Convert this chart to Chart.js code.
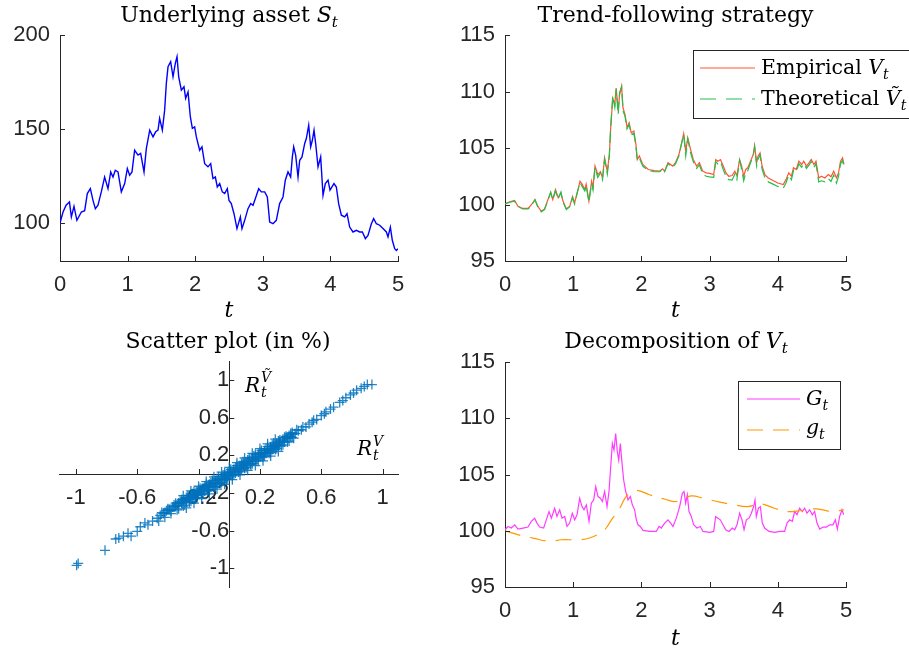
<!DOCTYPE html>
<html><head><meta charset="utf-8">
<script src="https://cdn.jsdelivr.net/npm/chart.js@4.4.1/dist/chart.umd.min.js"></script>
<style>
html,body{margin:0;padding:0;background:#fff;}
#wrap{position:relative;width:909px;height:649px;overflow:hidden;background:#fff;}
canvas{position:absolute;}
</style></head><body>
<div id="wrap">
<canvas id="c1" width="450" height="320" style="left:0;top:0;width:450px;height:320px"></canvas>
<canvas id="c2" width="459" height="320" style="left:450px;top:0;width:459px;height:320px"></canvas>
<canvas id="c3" width="450" height="329" style="left:0;top:320px;width:450px;height:329px"></canvas>
<canvas id="c4" width="459" height="329" style="left:450px;top:320px;width:459px;height:329px"></canvas>
</div>
<script>
// ---------- DATA ----------
const xTicks = [0, 1, 2, 3, 4, 5];
const yTicksS = [100, 150, 200];
const yTicksV = [95, 100, 105, 110, 115];
const scatTicks = [-1, -0.6, -0.2, 0.2, 0.6, 1];

// Underlying asset S_t
const tS = [0.00,0.045,0.09,0.14,0.168,0.207,0.25,0.316,0.365,0.404,
0.449,0.488,0.523,0.562,0.611,0.66,0.71,0.75,0.784,0.818,
0.858,0.907,0.957,0.996,1.03,1.065,1.104,1.154,1.193,1.243,
1.277,1.327,1.376,1.415,1.45,1.474,1.514,1.548,1.573,1.598,
1.637,1.672,1.706,1.731,1.756,1.795,1.834,1.859,1.894,1.928,
1.958,1.992,2.017,2.066,2.1,2.14,2.189,2.229,2.263,2.298,
2.327,2.362,2.401,2.436,2.475,2.5,2.534,2.574,2.618,2.668,
2.692,2.732,2.781,2.821,2.855,2.889,2.939,2.978,3.028,3.067,
3.102,3.151,3.2,3.249,3.299,3.333,3.373,3.412,3.437,3.457,
3.486,3.521,3.546,3.58,3.62,3.644,3.679,3.708,3.733,3.758,
3.782,3.817,3.856,3.891,3.925,3.965,3.994,4.053,4.088,4.122,
4.162,4.211,4.246,4.285,4.334,4.384,4.433,4.473,4.517,4.556,
4.606,4.64,4.68,4.729,4.778,4.828,4.852,4.887,4.916,4.951,
4.976,5.0];
const S = [100.2,106.0,109.6,111.3,103.4,109.0,101.6,106.0,106.7,115.8,
118.4,112.2,107.8,109.6,116.7,124.6,118.4,127.3,124.6,128.2,
127.3,116.7,121.1,129.1,125.5,127.3,138.8,136.2,137.1,127.3,
139.7,149.5,145.9,148.6,149.5,155.7,149.5,160.1,174.3,183.2,
185.8,177.8,184.9,188.5,177.8,170.7,172.5,166.3,169.8,156.6,
150.4,151.2,145.9,138.8,140.6,131.7,130.0,131.7,123.8,124.6,
119.3,121.1,116.7,115.8,118.4,112.2,110.5,105.1,97.2,103.4,
97.2,101.6,107.8,110.5,109.6,113.1,118.4,116.7,116.7,114.0,
100.7,99.8,101.6,110.5,114.0,122.9,127.3,124.6,135.3,140.6,
136.2,124.6,133.5,135.3,142.4,145.0,152.1,140.6,144.1,149.5,
142.4,130.0,135.3,114.9,121.1,122.9,117.6,121.1,119.3,110.5,
104.3,103.4,105.1,98.0,95.4,96.3,95.4,95.4,91.9,93.6,
99.8,102.5,99.8,99.0,97.2,95.4,92.8,98.0,91.0,86.5,
85.6,86.5];

// Trend-following strategy: empirical V_t and theoretical V~_t
const tV = [0,0.07,0.14,0.19,0.26,0.34,0.39,0.44,0.48,0.53,
0.58,0.63,0.67,0.70,0.74,0.78,0.82,0.85,0.90,0.95,
0.99,1.02,1.06,1.10,1.13,1.17,1.19,1.23,1.27,1.29,
1.32,1.36,1.40,1.43,1.46,1.50,1.53,1.55,1.58,1.61,
1.63,1.66,1.68,1.71,1.73,1.76,1.79,1.82,1.85,1.89,
1.92,1.94,1.97,2.02,2.10,2.19,2.27,2.31,2.34,2.39,
2.46,2.50,2.55,2.59,2.62,2.65,2.68,2.72,2.76,2.81,
2.85,2.90,2.95,3.00,3.06,3.09,3.12,3.16,3.20,3.24,
3.28,3.33,3.37,3.40,3.44,3.47,3.50,3.53,3.56,3.60,
3.64,3.66,3.69,3.71,3.74,3.77,3.81,3.86,3.93,4.00,
4.08,4.12,4.16,4.20,4.23,4.27,4.31,4.35,4.38,4.42,
4.46,4.49,4.53,4.56,4.60,4.64,4.69,4.74,4.78,4.82,
4.86,4.89,4.92,4.95,4.97];
const Vemp = [100.06,100.24,100.35,99.85,99.65,99.65,100.0,100.44,99.85,99.4,
99.6,100.44,101.03,100.44,101.33,100.6,101.03,100.3,99.6,99.85,
100.7,100.15,101.03,102.06,101.8,101.33,101.8,100.3,102.06,101.5,
103.4,102.65,102.9,102.35,104.13,102.9,104.42,106.8,109.4,108.85,
110.3,108.26,109.7,110.47,108.56,107.96,106.8,107.23,106.35,106.5,
105.3,103.98,104.3,103.54,103.1,103.0,102.95,103.15,102.95,103.7,
103.4,103.7,104.42,105.46,106.28,104.72,105.9,104.9,103.98,103.4,
103.7,102.95,102.8,102.75,102.65,103.98,103.83,103.98,103.4,102.8,
102.5,102.56,102.95,102.56,103.98,103.4,102.5,103.1,103.25,103.83,
104.42,105.22,103.7,104.28,104.57,103.4,102.65,102.35,102.12,101.9,
101.77,102.2,102.8,102.5,103.25,103.1,103.83,103.54,103.83,103.4,
103.7,103.98,103.54,103.83,102.35,102.5,102.35,102.65,102.45,102.95,
102.35,102.8,103.83,104.13,103.54];
const Vthe = [100.06,100.2,100.3,99.85,99.6,99.6,99.95,100.4,99.8,99.35,
99.55,100.4,101.1,100.4,101.2,100.5,101.1,100.2,99.55,99.8,
100.6,100.05,101.1,101.95,101.6,101.2,101.7,100.2,101.9,101.3,
103.3,102.4,102.8,102.2,104.0,102.7,104.3,106.9,109.6,108.6,
110.2,108.0,109.9,110.4,108.3,107.8,106.7,107.1,106.2,106.3,
105.1,103.9,104.1,103.4,103.0,102.9,102.9,103.2,102.9,103.6,
103.3,103.6,104.3,105.4,106.2,104.3,105.8,104.6,103.8,103.2,
103.5,102.7,102.5,102.45,102.4,103.8,103.6,103.8,103.1,102.5,
102.2,102.15,102.7,102.2,103.9,103.1,102.1,102.8,103.0,103.7,
104.3,105.1,103.4,104.0,104.4,103.1,102.4,102.0,101.8,101.6,
101.45,101.9,102.6,102.2,103.0,102.9,103.6,103.3,103.6,103.2,
103.5,103.8,103.3,103.6,102.0,102.1,102.0,102.3,102.05,102.6,
101.9,102.5,103.6,103.9,103.3];

// Decomposition: G_t and g_t
const tG = [0.0,0.044,0.093,0.142,0.191,0.264,0.337,0.386,0.435,0.469,
0.508,0.567,0.606,0.645,0.68,0.728,0.762,0.802,0.836,0.875,
0.909,0.948,0.987,1.022,1.056,1.095,1.129,1.158,1.193,1.232,
1.266,1.3,1.33,1.364,1.398,1.427,1.461,1.496,1.525,1.55,
1.574,1.598,1.623,1.647,1.667,1.691,1.716,1.74,1.77,1.804,
1.838,1.867,1.901,1.926,1.95,1.984,2.024,2.121,2.219,2.258,
2.292,2.341,2.39,2.429,
2.463,2.512,2.561,2.6,2.625,2.649,2.673,2.698,2.732,2.766,
2.815,2.864,2.903,3.001,3.06,3.089,3.123,3.157,3.196,3.236,
3.285,3.333,3.368,3.402,3.441,3.475,3.505,3.539,3.578,3.612,
3.646,3.666,3.685,3.715,3.744,3.773,3.807,3.871,3.954,4.027,
4.1,4.135,4.174,4.213,4.247,4.281,4.32,4.36,4.394,4.428,
4.467,4.506,4.54,4.575,4.614,4.663,4.712,4.761,4.809,4.844,
4.873,4.907,4.941,4.966];
const Gt = [100.09,100.38,100.24,100.53,100.15,100.24,100.33,100.83,101.12,100.68,
100.33,100.24,100.97,101.71,101.12,102.0,101.27,101.86,101.12,101.27,
100.38,100.68,101.56,100.97,101.42,102.89,102.15,101.86,102.3,100.83,
102.45,102.74,103.92,103.04,102.89,102.6,103.48,102.15,103.48,105.69,
107.76,107.17,108.64,107.02,106.28,107.76,105.99,104.51,103.48,102.74,
103.04,102.3,101.86,100.97,100.53,100.38,100.03,99.94,99.94,100.38,
100.24,100.68,100.97,100.68,
100.38,101.12,102.15,103.33,103.48,102.45,103.19,101.71,101.27,100.53,
100.24,100.38,99.94,99.85,99.94,101.27,101.12,100.97,100.53,100.09,
99.94,100.24,100.09,100.53,101.56,100.97,100.09,100.97,101.12,101.56,
102.15,102.74,101.27,102.0,102.15,100.68,100.24,99.94,99.85,99.94,
99.94,100.68,100.97,100.83,101.71,101.42,102.0,101.71,102.0,101.56,
101.86,101.42,101.71,100.68,100.15,100.33,100.33,100.53,100.53,100.97,
100.15,101.27,101.86,101.42];
const tg = [0,0.24,0.41,0.65,0.83,1.07,1.24,1.46,1.56,1.68,1.76,1.83,1.93,2.12,2.35,
2.51,2.73,2.90,3.15,3.32,3.56,3.74,3.95,4.13,4.35,4.57,4.79,4.97];
const gt = [100.0,99.56,99.35,99.06,99.2,99.2,99.35,100.09,100.97,101.98,102.9,103.33,103.6,103.2,102.8,
102.6,103.1,102.9,102.54,102.35,102.15,102.4,102.0,101.71,101.8,101.95,101.71,101.86];

// Scatter of returns (in %): x = R^V_t, y = R^{V~}_t
const scatX = [-0.995,-0.985,-0.81,-0.74,-0.72,-0.69,-0.66,-0.64,-0.60,-0.58,
-0.55,-0.53,-0.50,-0.47,-0.45,-0.42,-0.40,-0.38,-0.36,-0.34,
-0.33,-0.31,-0.30,-0.28,-0.27,-0.26,-0.25,-0.24,-0.23,-0.22,
-0.21,-0.20,-0.19,-0.18,-0.17,-0.16,-0.15,-0.14,-0.13,-0.12,
-0.11,-0.10,-0.09,-0.08,-0.07,-0.06,-0.05,-0.04,-0.03,-0.02,
-0.01,0.00,0.01,0.02,0.03,0.04,0.05,0.06,0.07,0.08,
0.09,0.10,0.11,0.12,0.13,0.14,0.15,0.16,0.17,0.18,
0.19,0.20,0.21,0.22,0.23,0.24,0.25,0.26,0.27,0.28,
0.29,0.30,0.31,0.32,0.33,0.35,0.36,0.38,0.40,0.41,
0.43,0.45,0.47,0.48,0.50,0.52,0.54,0.55,0.57,0.60,
0.62,0.63,0.66,0.68,0.72,0.74,0.76,0.79,0.81,0.83,
0.86,0.88,0.90,0.93,
-0.35,-0.31,-0.27,-0.23,-0.19,-0.15,-0.11,-0.07,-0.03,0.01,
0.05,0.09,0.13,0.17,0.21,0.25,0.29,0.33,0.37,0.41,
-0.33,-0.29,-0.25,-0.21,-0.17,-0.13,-0.09,-0.05,-0.01,0.03,
0.07,0.11,0.15,0.19,0.23,0.27,0.31,0.35,0.39,
-0.44,-0.40,-0.36,-0.32,-0.28,-0.24,-0.20,-0.16,-0.12,-0.08,
-0.04,0.00,0.04,0.08,0.12,0.16,0.20,0.24,0.28,0.32,
0.36,0.40,0.44,
-0.46,-0.42,-0.38,-0.34,-0.30,-0.26,-0.22,-0.18,-0.14,-0.10,
-0.06,-0.02,0.02,0.06,0.10,0.14,0.18,0.22,0.26,0.30,
0.34,0.38,0.42,
-0.43,-0.41,-0.39,-0.37,-0.35,-0.33,-0.31,-0.29,-0.27,-0.25,
-0.23,-0.21,-0.19,-0.17,-0.15,-0.13,-0.11,-0.09,-0.07,-0.05,
-0.03,-0.01,0.01,0.03,0.05,0.07,0.09,0.11,0.13,0.15,
0.17,0.19,0.21,0.23,0.25,0.27,0.29,0.31,0.33,0.35,
0.37,0.39,0.41,
-0.30,-0.25,-0.20,-0.15,-0.10,-0.05,0.00,0.05,0.10,0.15,
0.20,0.25,0.30,
-0.28,-0.23,-0.18,-0.13,-0.08,-0.03,0.02,0.07,0.12,0.17,
0.22,0.27,0.32];
const scatY = [-0.97,-0.95,-0.81,-0.69,-0.68,-0.66,-0.63,-0.66,-0.61,-0.56,
-0.52,-0.54,-0.50,-0.47,-0.44,-0.41,-0.38,-0.39,-0.35,-0.33,
-0.31,-0.31,-0.28,-0.28,-0.26,-0.27,-0.24,-0.25,-0.22,-0.23,
-0.20,-0.21,-0.18,-0.20,-0.16,-0.18,-0.14,-0.16,-0.12,-0.14,
-0.10,-0.13,-0.09,-0.11,-0.06,-0.09,-0.05,-0.07,-0.03,-0.05,
-0.01,-0.03,0.01,-0.01,0.03,0.01,0.05,0.03,0.07,0.05,
0.09,0.07,0.11,0.09,0.13,0.11,0.15,0.14,0.17,0.16,
0.19,0.18,0.21,0.20,0.23,0.22,0.25,0.24,0.27,0.26,
0.29,0.28,0.31,0.30,0.33,0.35,0.34,0.38,0.40,0.39,
0.43,0.46,0.47,0.50,0.50,0.53,0.55,0.57,0.58,0.62,
0.64,0.66,0.69,0.71,0.76,0.78,0.81,0.84,0.86,0.89,
0.91,0.93,0.95,0.95,
-0.31,-0.27,-0.23,-0.19,-0.15,-0.11,-0.07,-0.03,0.01,0.05,
0.09,0.13,0.17,0.21,0.25,0.29,0.33,0.36,0.40,0.44,
-0.37,-0.33,-0.29,-0.25,-0.21,-0.17,-0.13,-0.09,-0.05,-0.01,
0.03,0.07,0.11,0.15,0.19,0.23,0.27,0.31,0.35,
-0.41,-0.37,-0.33,-0.29,-0.25,-0.21,-0.17,-0.13,-0.09,-0.05,
-0.01,0.03,0.07,0.11,0.15,0.19,0.23,0.27,0.31,0.35,
0.39,0.43,0.47,
-0.50,-0.46,-0.42,-0.38,-0.34,-0.30,-0.26,-0.22,-0.18,-0.14,
-0.10,-0.06,-0.02,0.02,0.06,0.10,0.14,0.18,0.22,0.26,
0.30,0.34,0.38,
-0.42,-0.39,-0.38,-0.35,-0.34,-0.31,-0.30,-0.27,-0.26,-0.23,
-0.22,-0.19,-0.18,-0.15,-0.14,-0.11,-0.10,-0.07,-0.06,-0.03,
-0.02,0.01,0.02,0.05,0.06,0.09,0.10,0.13,0.14,0.17,
0.18,0.21,0.22,0.25,0.26,0.29,0.30,0.33,0.34,0.37,
0.38,0.41,0.42,
-0.23,-0.18,-0.13,-0.08,-0.03,0.02,0.07,0.12,0.17,0.22,
0.27,0.32,0.37,
-0.36,-0.31,-0.26,-0.21,-0.16,-0.11,-0.06,-0.01,0.04,0.09,
0.14,0.19,0.24];

// ---------- STYLE / HELPERS ----------
const AX = '#262626';
const SANS = '"Liberation Sans", Arial, Helvetica, sans-serif';
const SERIF = '"DejaVu Serif", "Liberation Serif", serif';
const TICKFONT = {family: SANS, size: 22};
const pts = (xs, ys) => xs.map((x, i) => ({x: x, y: ys[i]}));
const fixTicks = arr => scale => { scale.ticks = arr.map(v => ({value: v})); };
const fixW = w => s => { s.width = w; };
const fixH = h => s => { s.height = h; };

function drawRich(ctx, parts, x, y, align) {
  let w = 0;
  for (const p of parts) {
    ctx.font = (p.it ? 'italic ' : '') + p.sz + 'px ' + SERIF;
    p.w = ctx.measureText(p.t).width;
    w += p.w + (p.gap || 0);
  }
  let cx = align === 'center' ? x - w / 2 : x;
  ctx.textBaseline = 'alphabetic'; ctx.textAlign = 'left'; ctx.fillStyle = '#000';
  for (const p of parts) {
    ctx.font = (p.it ? 'italic ' : '') + p.sz + 'px ' + SERIF;
    ctx.fillText(p.t, cx + (p.gap || 0), y + (p.dy || 0));
    cx += p.w + (p.gap || 0);
  }
}
function inTicks(chart, baseY, baseX) {
  const ctx = chart.ctx, xs = chart.scales.x, ys = chart.scales.y;
  ctx.save(); ctx.strokeStyle = AX; ctx.lineWidth = 1; ctx.beginPath();
  xs.ticks.forEach(t => { const px = Math.round(xs.getPixelForValue(t.value)) + 0.5; ctx.moveTo(px, baseY); ctx.lineTo(px, baseY - 5); });
  ys.ticks.forEach(t => { const py = Math.round(ys.getPixelForValue(t.value)) + 0.5; ctx.moveTo(baseX, py); ctx.lineTo(baseX + 5, py); });
  ctx.stroke(); ctx.restore();
}
function legendLine(ctx, x1, x2, y, color, dash) {
  ctx.save(); ctx.strokeStyle = color; ctx.lineWidth = 1.2; ctx.setLineDash(dash || []);
  ctx.beginPath(); ctx.moveTo(x1, y); ctx.lineTo(x2, y); ctx.stroke(); ctx.restore();
}
function legendBox(ctx, x, y, w, h) {
  ctx.save(); ctx.fillStyle = '#fff'; ctx.fillRect(x, y, w, h);
  ctx.strokeStyle = AX; ctx.lineWidth = 1; ctx.strokeRect(x + 0.5, y + 0.5, w, h); ctx.restore();
}

function baseOpts(o) {
  return {
    responsive: false, animation: false, devicePixelRatio: 1, events: [],
    layout: {padding: o.pad},
    plugins: {legend: {display: false}, tooltip: {enabled: false}, title: {display: false}},
    scales: {
      x: {type: 'linear', min: 0, max: 5, afterBuildTicks: fixTicks(xTicks), afterFit: fixH(o.xH),
          grid: {display: true, drawOnChartArea: false, drawTicks: false},
          border: {display: true, color: AX, width: 1},
          ticks: {font: TICKFONT, color: AX, padding: 11, maxRotation: 0, autoSkip: false, callback: v => String(v)},
          title: {display: true, text: 't', color: '#000',
                  font: {family: SERIF, size: 22, style: 'italic', lineHeight: 0.8},
                  padding: {top: 0, bottom: o.tpb || 0}}},
      y: {type: 'linear', min: o.ymin, max: o.ymax, afterBuildTicks: fixTicks(o.yTicks), afterFit: fixW(o.yW),
          grid: {display: true, drawOnChartArea: false, drawTicks: false},
          border: {display: true, color: AX, width: 1},
          ticks: {font: TICKFONT, color: AX, padding: 10, autoSkip: false, callback: v => String(v)}}
    }
  };
}

// ---------- CHART 1: Underlying asset ----------
new Chart(document.getElementById('c1'), {
  type: 'line',
  data: {datasets: [{data: pts(tS, S), borderColor: '#0000FF', borderWidth: 1.4, pointRadius: 0, tension: 0}]},
  options: baseOpts({ymin: 80, ymax: 200, yTicks: yTicksS, yW: 60, xH: 59, pad: {left: 0, right: 52, top: 35, bottom: 0}}),
  plugins: [{id: 'deco1', afterDraw(chart) {
    const ctx = chart.ctx;
    inTicks(chart, chart.chartArea.bottom, chart.chartArea.left);
    drawRich(ctx, [{t: 'Underlying asset ', sz: 22}, {t: 'S', sz: 22, it: true}, {t: 't', sz: 15, it: true, dy: 5}], 229, 22, 'center');
  }}]
});

// ---------- CHART 2: Trend-following strategy ----------
new Chart(document.getElementById('c2'), {
  type: 'line',
  data: {datasets: [
    {data: pts(tV, Vemp), borderColor: '#FF5533', borderWidth: 1.2, pointRadius: 0, tension: 0, order: 1},
    {data: pts(tV, Vthe), borderColor: '#22C04A', borderWidth: 1.2, pointRadius: 0, tension: 0, borderDash: [12, 5], order: 0}
  ]},
  options: baseOpts({ymin: 95, ymax: 115, yTicks: yTicksV, yW: 55, xH: 59, pad: {left: 0, right: 63, top: 35, bottom: 0}}),
  plugins: [{id: 'deco2', afterDraw(chart) {
    const ctx = chart.ctx;
    inTicks(chart, chart.chartArea.bottom, chart.chartArea.left);
    drawRich(ctx, [{t: 'Trend-following strategy', sz: 22}], 225.5, 22, 'center');
    legendBox(ctx, 243, 50, 300, 68);
    legendLine(ctx, 250, 305, 68, '#FF5533');
    legendLine(ctx, 250, 305, 99, '#22C04A', [16, 10]);
    drawRich(ctx, [{t: 'Empirical ', sz: 20.5}, {t: 'V', sz: 20.5, it: true}, {t: 't', sz: 14, it: true, dy: 5}], 311, 74, 'left');
    drawRich(ctx, [{t: 'Theoretical ', sz: 20.5}, {t: 'Ṽ', sz: 20.5, it: true}, {t: 't', sz: 14, it: true, dy: 5}], 311, 105, 'left');
  }}]
});

// ---------- CHART 3: Scatter plot ----------
new Chart(document.getElementById('c3'), {
  type: 'scatter',
  data: {datasets: [{data: pts(scatX, scatY), pointStyle: 'cross', pointRadius: 5, borderWidth: 1.3,
    borderColor: 'rgba(0,114,189,0.85)', backgroundColor: 'rgba(0,114,189,0.85)'}]},
  options: {
    responsive: false, animation: false, devicePixelRatio: 1, events: [],
    layout: {padding: {left: 59, right: 52, top: 41, bottom: 62}},
    plugins: {legend: {display: false}, tooltip: {enabled: false}},
    scales: {
      x: {type: 'linear', min: -1.11, max: 1.1, position: {y: 0}, afterBuildTicks: fixTicks(scatTicks), afterFit: fixH(0),
          grid: {display: true, drawOnChartArea: false, drawTicks: false},
          border: {display: true, color: AX, width: 1},
          ticks: {font: TICKFONT, color: AX, padding: 11, maxRotation: 0, autoSkip: false, callback: v => String(v)}},
      y: {type: 'linear', min: -1.2, max: 1.2, position: {x: 0}, afterBuildTicks: fixTicks(scatTicks), afterFit: fixW(0),
          grid: {display: true, drawOnChartArea: false, drawTicks: false},
          border: {display: true, color: AX, width: 1},
          ticks: {font: TICKFONT, color: AX, padding: 10, autoSkip: false, callback: v => String(v)}}
    }
  },
  plugins: [{id: 'deco3', afterDraw(chart) {
    const ctx = chart.ctx;
    inTicks(chart, chart.scales.y.getPixelForValue(0), chart.scales.x.getPixelForValue(0));
    drawRich(ctx, [{t: 'Scatter plot (in %)', sz: 22}], 228, 28, 'center');
    // R_t^{V~}
    drawRich(ctx, [{t: 'R', sz: 20, it: true}], 245, 72, 'left');
    drawRich(ctx, [{t: 'Ṽ', sz: 14, it: true}], 261, 62, 'left');
    drawRich(ctx, [{t: 't', sz: 14, it: true}], 261, 77, 'left');
    // R_t^V
    drawRich(ctx, [{t: 'R', sz: 20, it: true}], 357, 135, 'left');
    drawRich(ctx, [{t: 'V', sz: 14, it: true}], 373, 126, 'left');
    drawRich(ctx, [{t: 't', sz: 14, it: true}], 373, 140, 'left');
  }}]
});

// ---------- CHART 4: Decomposition ----------
new Chart(document.getElementById('c4'), {
  type: 'line',
  data: {datasets: [
    {data: pts(tG, Gt), borderColor: '#FF3DFF', borderWidth: 1.2, pointRadius: 0, tension: 0, order: 1},
    {data: pts(tg, gt), borderColor: '#FF9900', borderWidth: 1.2, pointRadius: 0, tension: 0.4, borderDash: [16, 10], order: 0}
  ]},
  options: baseOpts({ymin: 95, ymax: 115, yTicks: yTicksV, yW: 55, xH: 62, tpb: 1, pad: {left: 0, right: 63, top: 42, bottom: 0}}),
  plugins: [{id: 'deco4', afterDraw(chart) {
    const ctx = chart.ctx;
    inTicks(chart, chart.chartArea.bottom, chart.chartArea.left);
    drawRich(ctx, [{t: 'Decomposition of ', sz: 22}, {t: 'V', sz: 22, it: true}, {t: 't', sz: 15, it: true, dy: 5}], 226, 28, 'center');
    legendBox(ctx, 288, 61, 102, 68);
    legendLine(ctx, 297, 350, 79, '#FF3DFF');
    legendLine(ctx, 297, 350, 110, '#FF9900', [16, 10]);
    drawRich(ctx, [{t: 'G', sz: 20.5, it: true}, {t: 't', sz: 14, it: true, dy: 5}], 356, 85, 'left');
    drawRich(ctx, [{t: 'g', sz: 20.5, it: true}, {t: 't', sz: 14, it: true, dy: 5}], 356, 114, 'left');
  }}]
});
</script>
</body></html>
